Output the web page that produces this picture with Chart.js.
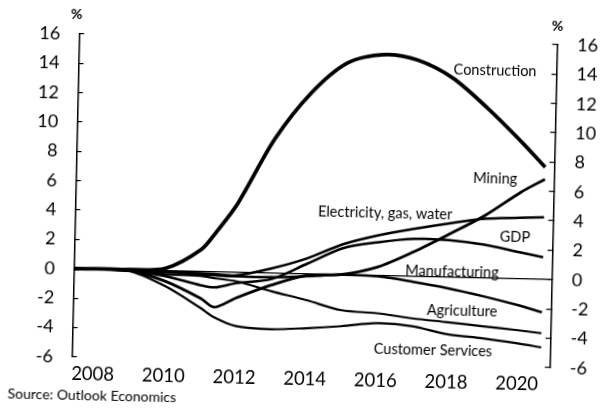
<!DOCTYPE html>
<html>
<head>
<meta charset="utf-8">
<script src="https://cdn.jsdelivr.net/npm/chart.js@4.4.0/dist/chart.umd.min.js"></script>
<style>
  html, body { margin: 0; padding: 0; background: #fff; overflow: hidden; }
  #wrap { width: 600px; height: 408px; }
  /* the printed chart sits slightly skewed on the page */
  #chart { display: block; transform: rotate(1.3deg); transform-origin: 300px 204px; }
</style>
</head>
<body>
<div id="wrap"><canvas id="chart" width="600" height="408"></canvas></div>
<script>
  // % deviation from baseline, by industry
  const years = [2007.4, 2008, 2009, 2010, 2011, 2011.4, 2012, 2013, 2014, 2015, 2016, 2017, 2018, 2019, 2020, 2020.67];

  const construction = [0, 0.03, 0.02, 0.17, 1.52, 2.69, 4.71, 9.13, 12.32, 14.42, 15.06, 14.74, 13.57, 11.58, 9.3, 7.64];
  const mining = [0, 0.02, -0.05, -0.72, -1.82, -2.41, -1.75, -0.81, -0.09, 0.03, 0.59, 1.67, 2.93, 4.26, 5.9, 6.82];
  const electricity = [0, 0.02, -0.03, -0.03, -0.12, -0.16, -0.2, 0.33, 1.07, 2.08, 2.75, 3.24, 3.67, 4.04, 4.16, 4.23];
  const gdp = [0, 0.02, -0.05, -0.37, -0.93, -1.06, -0.74, -0.4, 0.7, 1.81, 2.27, 2.56, 2.52, 2.26, 1.81, 1.5];
  const manufacturing = [0, 0.02, -0.05, -0.1, -0.18, -0.23, -0.27, -0.28, -0.16, 0.0, -0.05, -0.37, -0.76, -1.25, -1.81, -2.25];
  const agriculture = [0, 0.02, -0.05, -0.24, -0.3, -0.44, -0.61, -1.23, -1.79, -2.42, -2.57, -2.86, -3.07, -3.29, -3.51, -3.68];
  const customerServices = [0, 0.02, -0.09, -1.06, -2.47, -3.1, -3.65, -3.82, -3.7, -3.51, -3.25, -3.4, -3.89, -4.11, -4.4, -4.64];

  const xTicks = [2008, 2010, 2012, 2014, 2016, 2018, 2020];
  const yTicks = [-6, -4, -2, 0, 2, 4, 6, 8, 10, 12, 14, 16];

  // name, [year, value] where the name is written
  const seriesNames = ['Construction', 'Mining', 'Electricity, gas, water', 'GDP', 'Manufacturing', 'Agriculture', 'Customer Services'];
  const nameSpots = [[2019.19, 14.17], [2019.26, 6.81], [2016.17, 4.25], [2019.86, 2.79], [2018.1, 0.34], [2018.41, -2.3], [2017.61, -5.01]];

  const FONT = 'Lato, "Open Sans", sans-serif';

  function line(values, width) {
    return {
      data: values.map((v, i) => ({x: years[i], y: v})),
      borderColor: '#000',
      borderWidth: width,
      pointRadius: 0,
      fill: false,
      tension: 0.3,
    };
  }

  const namesPlugin = {
    id: 'names',
    afterDatasetsDraw(chart) {
      const ctx = chart.ctx;
      const xs = chart.scales.x, ys = chart.scales.y;
      ctx.save();
      ctx.fillStyle = '#000';
      ctx.textAlign = 'center';
      ctx.textBaseline = 'middle';
      ctx.font = '14.5px ' + FONT;
      seriesNames.forEach((name, i) => {
        ctx.fillText(name, xs.getPixelForValue(nameSpots[i][0]), ys.getPixelForValue(nameSpots[i][1]));
      });
      // unit marks above both axes
      ctx.font = 'bold 14px ' + FONT;
      ctx.fillText('%', xs.left - 3, ys.top - 20);
      ctx.fillText('%', xs.right, ys.top - 19);
      ctx.font = '14px ' + FONT;
      ctx.textAlign = 'left';
      ctx.fillText('Source: Outlook Economics', 12, 400);
      ctx.restore();
    }
  };

  function yAxis(side) {
    return {
      type: 'linear',
      position: side,
      min: -6,
      max: 16,
      afterBuildTicks: (scale) => { scale.ticks = yTicks.map(v => ({value: v})); },
      afterFit: (scale) => { scale.width = side === 'left' ? 75.4 : 46.5; },
      border: {display: true, color: '#000', width: 1.5},
      grid: {
        drawOnChartArea: side === 'left',
        color: (c) => (c.tick && c.tick.value === 0 ? '#000' : 'rgba(0,0,0,0)'),
        lineWidth: 1.2,
        tickColor: '#000',
        tickLength: -5,
      },
      ticks: {
        color: '#000',
        font: {family: FONT, size: 18},
        padding: side === 'left' ? 24 : 25,
        callback: (v) => String(v),
      },
    };
  }

  new Chart(document.getElementById('chart'), {
    type: 'line',
    data: {
      datasets: [
        line(construction, 3.8),
        line(mining, 2.8),
        line(electricity, 2.5),
        line(gdp, 2.5),
        line(manufacturing, 2.5),
        line(agriculture, 2.2),
        line(customerServices, 2.2),
      ],
    },
    options: {
      responsive: false,
      animation: false,
      layout: {padding: {top: 39, left: 0, right: 0, bottom: 0}},
      plugins: {legend: {display: false}, tooltip: {enabled: false}},
      scales: {
        x: {
          type: 'linear',
          min: 2007.4,
          max: 2020.93,
          afterBuildTicks: (scale) => { scale.ticks = xTicks.map(v => ({value: v})); },
          afterFit: (scale) => { scale.height = 46.2; },
          border: {display: false},
          grid: {display: false, drawTicks: false},
          ticks: {
            color: '#000',
            font: {family: FONT, size: 18.5},
            padding: 6,
            maxRotation: 0,
            autoSkip: false,
            callback: (v) => String(v),
          },
        },
        y: yAxis('left'),
        y2: yAxis('right'),
      },
    },
    plugins: [namesPlugin],
  });
</script>
</body>
</html>
